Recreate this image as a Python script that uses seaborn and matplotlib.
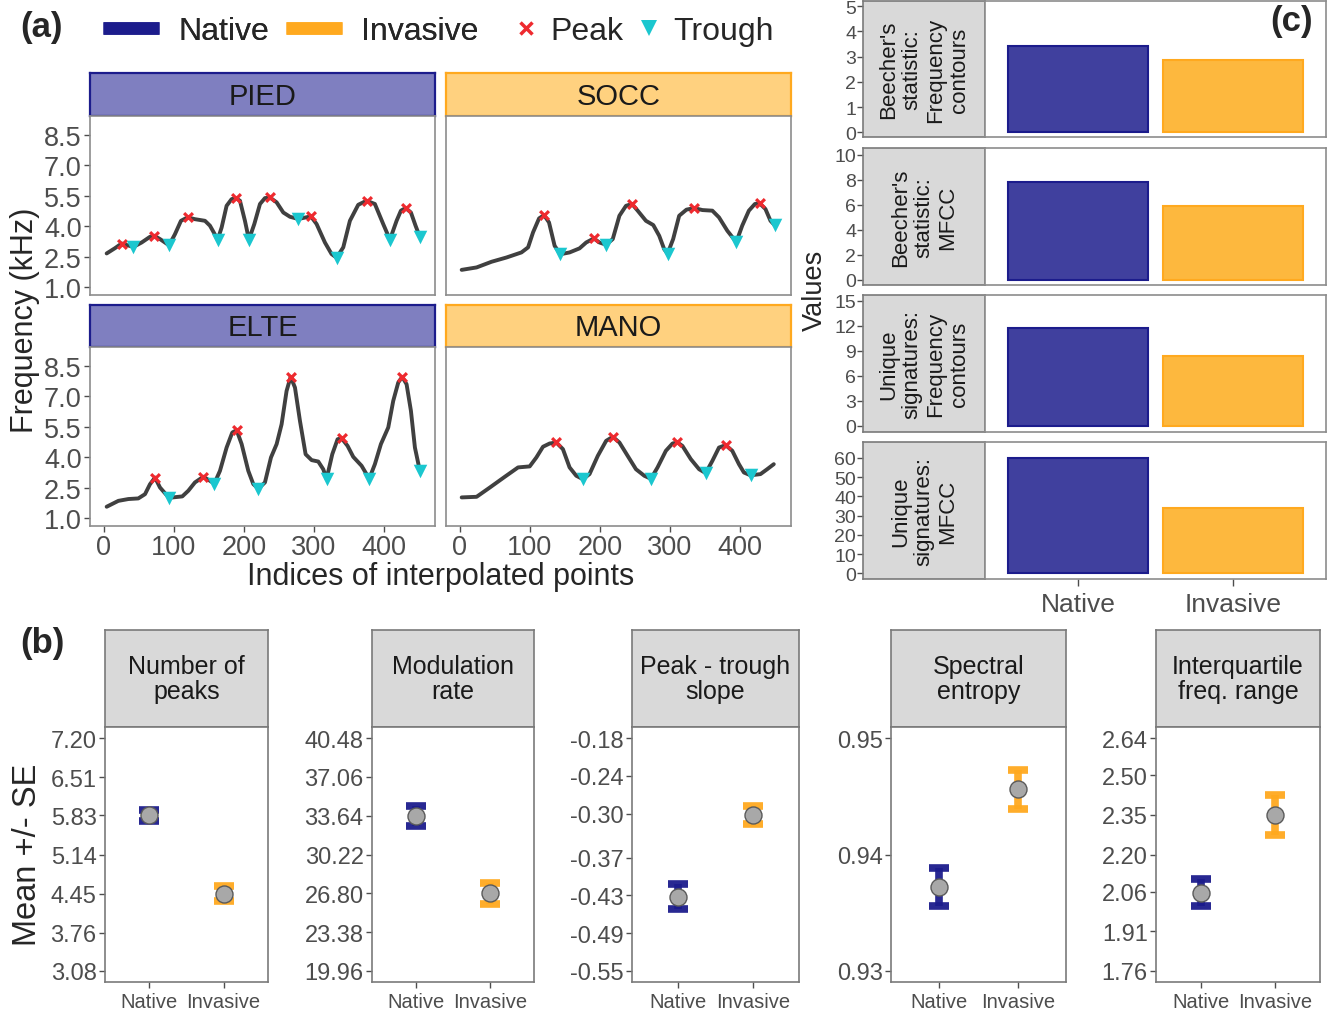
import numpy as np
import matplotlib
matplotlib.use('Agg')
import matplotlib.pyplot as plt
from matplotlib.lines import Line2D
import seaborn as sns

# ---- (a) frequency contours ----
pied_x = np.array([3.8, 15.7, 25.2, 41.9, 53.8, 65.7, 71.9, 80.0, 92.9, 101.4,
                   110.0, 119.5, 130.0, 144.3, 151.4, 157.6, 162.4, 168.1, 175.2, 182.4,
                   188.1, 194.3, 201.4, 207.1, 214.8, 222.9, 230.0, 237.1, 246.7, 256.2,
                   265.7, 277.6, 295.7, 303.8, 315.7, 325.2, 332.4, 341.9, 351.4, 363.3,
                   375.2, 387.1, 399.0, 408.6, 418.1, 424.3, 431.0, 438.6, 445.2, 451.4])
pied_y = np.array([2.66, 2.92, 3.15, 2.98, 3.20, 3.48, 3.53, 3.37, 3.06, 3.61,
                   4.27, 4.44, 4.35, 4.27, 4.03, 3.65, 3.34, 3.94, 5.01, 5.34,
                   5.39, 5.26, 4.27, 3.34, 4.11, 5.10, 5.39, 5.42, 5.18, 4.68,
                   4.47, 4.36, 4.49, 4.11, 3.20, 2.63, 2.45, 2.96, 4.27, 5.06,
                   5.26, 5.10, 4.11, 3.34, 4.27, 4.77, 4.90, 4.68, 4.03, 3.47])
pied_peaks = [2, 6, 11, 20, 27, 32, 40, 46]
pied_troughs = [3, 8, 16, 23, 31, 36, 43, 49]

socc_x = np.array([2.4, 23.7, 45.1, 66.4, 87.8, 97.3, 104.4, 113.0, 120.1, 127.2,
                   135.2, 143.3, 156.6, 170.8, 180.3, 191.2, 199.3, 208.8, 218.3, 227.8,
                   237.2, 245.8, 253.9, 265.7, 276.2, 284.7, 291.8, 296.6, 304.6, 313.2,
                   323.6, 334.5, 346.4, 360.6, 370.1, 382.0, 394.8, 403.3, 412.8, 421.4,
                   428.0, 436.5, 443.7, 449.8])
socc_y = np.array([1.85, 1.97, 2.25, 2.46, 2.71, 2.96, 3.70, 4.39, 4.55, 4.19,
                   3.04, 2.62, 2.71, 2.91, 3.20, 3.40, 3.20, 3.09, 3.37, 4.52,
                   5.01, 5.10, 4.77, 4.27, 4.06, 3.53, 2.87, 2.65, 3.37, 4.52,
                   4.82, 4.90, 4.80, 4.77, 4.44, 3.78, 3.22, 4.03, 4.77, 5.10,
                   5.14, 4.85, 4.27, 4.05])
socc_peaks = [8, 15, 21, 31, 40]
socc_troughs = [11, 17, 27, 36, 43]

elte_x = np.array([3.8, 20.5, 34.8, 49.0, 58.6, 65.7, 72.9, 80.0, 92.9, 111.9,
                   120.5, 130.0, 141.9, 151.4, 157.6, 165.7, 175.2, 183.3, 189.5, 196.7,
                   206.2, 213.3, 220.5, 230.0, 238.6, 246.7, 253.8, 260.9, 266.7, 272.9,
                   280.0, 288.1, 296.7, 306.2, 313.3, 318.1, 326.2, 333.8, 339.5, 348.1,
                   356.2, 368.1, 379.0, 387.1, 395.7, 406.2, 413.3, 420.5, 426.2, 432.4,
                   438.6, 444.3, 451.4])
elte_y = np.array([1.56, 1.85, 1.94, 1.97, 2.18, 2.67, 3.00, 2.51, 2.00, 2.07,
                   2.35, 2.76, 3.04, 2.84, 2.70, 3.33, 4.48, 5.22, 5.34, 4.65,
                   3.33, 2.68, 2.45, 2.76, 3.99, 4.65, 5.63, 7.27, 7.97, 7.44,
                   5.80, 4.15, 3.86, 3.79, 3.41, 2.94, 4.15, 4.89, 4.94, 4.56,
                   4.02, 3.58, 2.94, 3.66, 4.65, 5.47, 6.78, 7.69, 7.97, 7.60,
                   6.29, 4.48, 3.32])
elte_peaks = [6, 12, 18, 28, 38, 48]
elte_troughs = [8, 14, 22, 35, 42, 52]

mano_x = np.array([2.4, 23.7, 42.7, 64.1, 83.0, 99.6, 109.1, 118.6, 128.1, 137.6,
                   147.1, 156.6, 166.1, 175.6, 185.1, 196.9, 208.8, 218.3, 227.8, 239.6,
                   251.5, 263.3, 272.8, 282.3, 294.2, 303.7, 310.8, 317.9, 329.8, 341.7,
                   351.1, 360.6, 370.1, 379.6, 389.1, 398.6, 405.7, 415.2, 429.4, 438.9,
                   448.4])
mano_y = np.array([2.02, 2.05, 2.51, 3.04, 3.50, 3.55, 3.99, 4.52, 4.68, 4.73,
                   4.40, 3.50, 3.09, 2.92, 3.17, 4.07, 4.81, 5.01, 4.73, 4.07,
                   3.41, 3.09, 2.94, 3.50, 4.32, 4.68, 4.73, 4.56, 3.91, 3.41,
                   3.22, 3.82, 4.48, 4.60, 4.32, 3.66, 3.25, 3.11, 3.17, 3.41,
                   3.66])
mano_peaks = [9, 17, 26, 33]
mano_troughs = [13, 22, 30, 37]

# ---- (b) mean +/- SE ----
b_titles = ['Number of\npeaks', 'Modulation\nrate', 'Peak - trough\nslope',
            'Spectral\nentropy', 'Interquartile\nfreq. range']
b_ticks = [['3.08', '3.76', '4.45', '5.14', '5.83', '6.51', '7.20'],
           ['19.96', '23.38', '26.80', '30.22', '33.64', '37.06', '40.48'],
           ['-0.55', '-0.49', '-0.43', '-0.37', '-0.30', '-0.24', '-0.18'],
           ['0.93', '0.94', '0.95'],
           ['1.76', '1.91', '2.06', '2.20', '2.35', '2.50', '2.64']]
native_mean = [5.83, 33.64, -0.432, 0.9372, 2.056]
native_se = [0.10, 0.89, 0.020, 0.0016, 0.050]
invasive_mean = [4.45, 26.80, -0.302, 0.9456, 2.350]
invasive_se = [0.14, 0.93, 0.014, 0.0017, 0.076]

# ---- (c) bar values ----
c_titles = ["Beecher's\nstatistic:\nFrequency\ncontours", "Beecher's\nstatistic:\nMFCC",
            "Unique\nsignatures:\nFrequency\ncontours", "Unique\nsignatures:\nMFCC"]
c_native = [3.41, 7.79, 11.72, 60.0]
c_invasive = [2.88, 5.90, 8.33, 34.1]
c_ticks = [[0, 1, 2, 3, 4, 5], [0, 2, 4, 6, 8, 10], [0, 3, 6, 9, 12, 15],
           [0, 10, 20, 30, 40, 50, 60]]
c_ylim = [(-0.19, 5.21), (-0.42, 10.54), (-0.72, 15.68), (-2.97, 68.2)]
groups = ['Native', 'Invasive']

# colours
NAV_LINE, INV_LINE = '#1c1c8c', '#ffa91f'
NAV_FILL, INV_FILL = '#40409e', '#fdb83e'
NAV_STRIP, INV_STRIP = '#7f7fc0', '#ffd17f'
TICK = '#4d4d4d'
BORDER = '#8c8c8c'

sns.set_theme(style='white')
plt.rcParams['font.family'] = ['Liberation Sans', 'DejaVu Sans']

W, H = 1328, 1012
fig = plt.figure(figsize=(W / 100, H / 100), dpi=100)


def box(l, t, r, b):
    return fig.add_axes([l / W, 1 - b / H, (r - l) / W, (b - t) / H])


def frame(ax, color=BORDER, lw=1.2):
    for sp in ax.spines.values():
        sp.set_visible(True)
        sp.set_color(color)
        sp.set_linewidth(lw)


# ================= (a) =================
cells = [('PIED', pied_x, pied_y, pied_peaks, pied_troughs, 0, 0, 0),
         ('SOCC', socc_x, socc_y, socc_peaks, socc_troughs, 1, 1, 0),
         ('ELTE', elte_x, elte_y, elte_peaks, elte_troughs, 0, 0, 1),
         ('MANO', mano_x, mano_y, mano_peaks, mano_troughs, 1, 1, 1)]
cols = [(90, 435), (446, 791)]
rows = [(74, 117, 296), (306, 348, 527)]

for name, xs, ys, pk, tr, grp, c, r in cells:
    l, rr = cols[c]
    st, sb, pb = rows[r]
    strip = box(l, st, rr, sb)
    strip.set_facecolor(INV_STRIP if grp else NAV_STRIP)
    frame(strip, INV_LINE if grp else NAV_LINE, 1.6)
    strip.set_xticks([])
    strip.set_yticks([])
    strip.text(0.5, 0.47, name, ha='center', va='center', fontsize=21,
               color='#1a1a1a', transform=strip.transAxes)

    ax = box(l, sb, rr, pb)
    frame(ax)
    sns.lineplot(x=xs, y=ys, ax=ax, color='#404040', linewidth=2.8,
                 sort=False, estimator=None)
    ax.lines[-1].set_solid_joinstyle('round')
    ax.lines[-1].set_solid_capstyle('round')
    ax.scatter(xs[pk], ys[pk], marker='x', s=40, linewidths=2.3,
               color='#ee2a2f', zorder=3)
    ax.scatter(xs[tr], ys[tr], marker='v', s=95, linewidths=0,
               color='#1bc7cf', zorder=3)
    ax.set_xlim(-20, 473)
    ax.set_ylim(0.61, 9.44)
    ax.set_xticks([0, 100, 200, 300, 400])
    ax.set_yticks([1.0, 2.5, 4.0, 5.5, 7.0, 8.5])
    ax.set_yticklabels(['1.0', '2.5', '4.0', '5.5', '7.0', '8.5'])
    ax.tick_params(labelsize=19.5, labelcolor=TICK, color=TICK, length=4,
                   width=1, pad=2, left=(c == 0), labelleft=(c == 0),
                   bottom=(r == 1), labelbottom=(r == 1))

fig.text(25 / W, 1 - 320 / H, 'Frequency (kHz)', rotation=90, ha='center',
         va='center', fontsize=22)
fig.text(441 / W, 1 - 577 / H, 'Indices of interpolated points', ha='center',
         va='center', fontsize=22)
fig.text(42 / W, 1 - 27 / H, '(a)', ha='center', va='center', fontsize=25,
         fontweight='bold')

leg1 = fig.legend(handles=[Line2D([], [], color=NAV_LINE, lw=9,
                                  solid_capstyle='butt'),
                           Line2D([], [], color=INV_LINE, lw=9,
                                  solid_capstyle='butt')],
                  labels=['Native', 'Invasive'], ncol=2, frameon=False,
                  fontsize=23, handlelength=1.75, handletextpad=0.6,
                  columnspacing=0.55, borderpad=0, borderaxespad=0,
                  loc='center left', bbox_to_anchor=(103 / W, 1 - 32 / H))
fig.legend(handles=[Line2D([], [], ls='none', marker='x', color='#ee2a2f',
                           markersize=9, mew=2.5),
                    Line2D([], [], ls='none', marker='v', color='#1bc7cf',
                           markersize=12, mew=0)],
           labels=['Peak', 'Trough'], ncol=2, frameon=False, fontsize=23,
           handlelength=0.9, handletextpad=0.3, columnspacing=0.35,
           borderpad=0, borderaxespad=0, loc='center left',
           bbox_to_anchor=(512 / W, 1 - 32 / H))
fig.add_artist(leg1)

# ================= (b) =================
b_lr = [(105, 268), (372, 534), (632, 799), (891, 1066), (1156, 1320)]
for i, (l, r) in enumerate(b_lr):
    strip = box(l, 631, r, 728)
    strip.set_facecolor('#d9d9d9')
    frame(strip, '#7a7a7a', 1.2)
    strip.set_xticks([])
    strip.set_yticks([])
    strip.text(0.5, 0.5, b_titles[i], ha='center', va='center', fontsize=18,
               color='#1a1a1a', linespacing=1.1, transform=strip.transAxes)

    ax = box(l, 728, r, 983)
    frame(ax, '#7a7a7a', 1.2)
    ticks = [float(t) for t in b_ticks[i]]
    pad = (ticks[-1] - ticks[0]) * 0.0475
    ax.errorbar([1], [native_mean[i]], yerr=[native_se[i]], fmt='none',
                ecolor=NAV_LINE, elinewidth=5.5, capsize=7.5, capthick=5.5,
                alpha=0.95)
    ax.errorbar([2], [invasive_mean[i]], yerr=[invasive_se[i]], fmt='none',
                ecolor=INV_LINE, elinewidth=5.5, capsize=7.5, capthick=5.5,
                alpha=0.95)
    sns.scatterplot(x=[1, 2], y=[native_mean[i], invasive_mean[i]], ax=ax,
                    s=150, color='#a8a8a8', edgecolor='#5a5a5a', linewidth=1,
                    zorder=3)
    ax.set_xlim(0.4, 2.6)
    ax.set_ylim(ticks[0] - pad, ticks[-1] + pad)
    ax.set_xticks([1, 2])
    ax.set_xticklabels(groups)
    ax.set_yticks(ticks)
    ax.set_yticklabels(b_ticks[i])
    ax.tick_params(axis='y', labelsize=17, labelcolor=TICK, color=TICK,
                   length=4, width=1, pad=2, left=True)
    ax.tick_params(axis='x', labelsize=14.5, labelcolor=TICK, color=TICK,
                   length=4, width=1, pad=3, bottom=True)

fig.text(28 / W, 1 - 855 / H, 'Mean +/- SE', rotation=90, ha='center',
         va='center', fontsize=23.5)
fig.text(42 / W, 1 - 643 / H, '(b)', ha='center', va='center', fontsize=25,
         fontweight='bold')

# ================= (c) =================
c_rows = [(2, 138), (149, 286), (296, 433), (443, 580)]
for i, (t, b) in enumerate(c_rows):
    strip = box(863, t, 985, b)
    strip.set_facecolor('#d9d9d9')
    frame(strip, '#7a7a7a', 1.2)
    strip.set_ylim(*c_ylim[i])
    strip.set_yticks(c_ticks[i])
    strip.set_xticks([])
    strip.tick_params(axis='y', labelsize=14, labelcolor=TICK, color=TICK,
                      length=4, width=1, pad=1, left=True)
    strip.text(0.5, 0.5, c_titles[i], ha='center', va='center', rotation=90,
               fontsize=16, color='#1a1a1a', linespacing=1.15,
               transform=strip.transAxes)

    ax = box(985, t, 1326, b)
    frame(ax, BORDER, 1.2)
    sns.barplot(x=groups, y=[c_native[i], c_invasive[i]], hue=groups,
                palette=[NAV_FILL, INV_FILL], saturation=1, width=0.9,
                legend=False, ax=ax)
    for patch, ec in zip(ax.patches, [NAV_LINE, INV_LINE]):
        patch.set_edgecolor(ec)
        patch.set_linewidth(1.5)
    ax.set_xlim(-0.6, 1.6)
    ax.set_ylim(*c_ylim[i])
    ax.set_yticks([])
    ax.set_xlabel('')
    ax.set_ylabel('')
    last = i == len(c_rows) - 1
    ax.tick_params(axis='x', labelsize=19, labelcolor=TICK, color=TICK,
                   length=5, width=1, pad=4, bottom=last, labelbottom=last)

fig.text(815 / W, 1 - 290 / H, 'Values', rotation=90, ha='center',
         va='center', fontsize=19.5)
fig.text(1292 / W, 1 - 22 / H, '(c)', ha='center', va='center', fontsize=25,
         fontweight='bold')

fig.savefig('out.png', dpi=100)
